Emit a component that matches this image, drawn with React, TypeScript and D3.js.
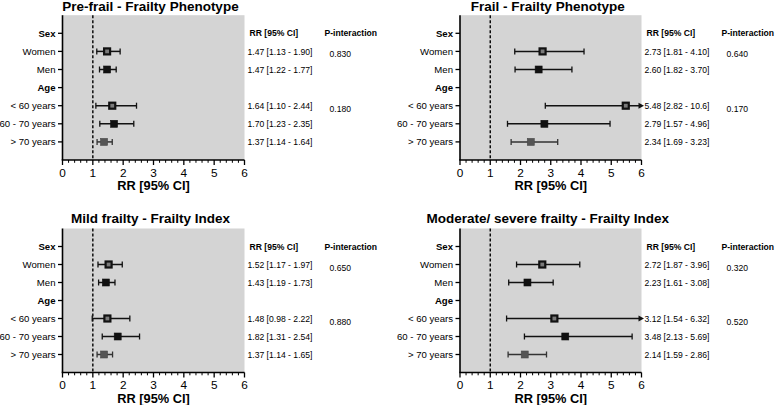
import React from "react";
import * as d3 from "d3";

// ---------- DATA ----------
const rowLabels = ["Sex", "Women", "Men", "Age", "< 60 years", "60 - 70 years", "> 70 years"];
const headerLabels = ["Sex", "Age"];
const dataRowLabels = ["Women", "Men", "< 60 years", "60 - 70 years", "> 70 years"];
const xTicks = [0, 1, 2, 3, 4, 5, 6];

const panelTitles = [
  "Pre-frail - Frailty Phenotype",
  "Frail - Frailty Phenotype",
  "Mild frailty - Frailty Index",
  "Moderate/ severe frailty - Frailty Index",
];

const preFrailRR = [1.47, 1.47, 1.64, 1.7, 1.37];
const preFrailLo = [1.13, 1.22, 1.1, 1.23, 1.14];
const preFrailHi = [1.9, 1.77, 2.44, 2.35, 1.64];
const preFrailP = [0.83, 0.18];

const frailRR = [2.73, 2.6, 5.48, 2.79, 2.34];
const frailLo = [1.81, 1.82, 2.82, 1.57, 1.69];
const frailHi = [4.1, 3.7, 10.6, 4.96, 3.23];
const frailP = [0.64, 0.17];

const mildRR = [1.52, 1.43, 1.48, 1.82, 1.37];
const mildLo = [1.17, 1.19, 0.98, 1.31, 1.14];
const mildHi = [1.97, 1.73, 2.22, 2.54, 1.65];
const mildP = [0.65, 0.88];

const modRR = [2.72, 2.23, 3.12, 3.48, 2.14];
const modLo = [1.87, 1.61, 1.54, 2.13, 1.59];
const modHi = [3.96, 3.08, 6.32, 5.69, 2.86];
const modP = [0.32, 0.52];

const pRowLabels = ["Women", "< 60 years"];

// ---------- STYLE / LAYOUT ----------
const FONT = "'Liberation Sans', Arial, Helvetica, sans-serif";
const BG = "#d4d4d4";
const markerStyle: Record<string, { fill: string; stroke: string; bar: string }> = {
  Women: { fill: "#7a7a7a", stroke: "#111", bar: "#111" },
  Men: { fill: "#111", stroke: "#111", bar: "#111" },
  "< 60 years": { fill: "#7a7a7a", stroke: "#111", bar: "#111" },
  "60 - 70 years": { fill: "#111", stroke: "#111", bar: "#111" },
  "> 70 years": { fill: "#555", stroke: "#4a4a4a", bar: "#333" },
};

const layouts = [
  { x0: 62.5, x1: 244.5, y0: 15.2, y1: 160, titleY: 11 },
  { x0: 460, x1: 641.5, y0: 15.2, y1: 160, titleY: 11 },
  { x0: 62.5, x1: 244.5, y0: 228.5, y1: 372.5, titleY: 223 },
  { x0: 460, x1: 641.5, y0: 228.5, y1: 372.5, titleY: 223 },
];

const panelData = [
  { rr: preFrailRR, lo: preFrailLo, hi: preFrailHi, p: preFrailP },
  { rr: frailRR, lo: frailLo, hi: frailHi, p: frailP },
  { rr: mildRR, lo: mildLo, hi: mildHi, p: mildP },
  { rr: modRR, lo: modLo, hi: modHi, p: modP },
];

const fmt = (v: number) => (v >= 10 ? v.toFixed(1) : v.toFixed(2));

function Panel({ idx }: { idx: number }) {
  const L = layouts[idx];
  const D = panelData[idx];
  const x = d3.scaleLinear().domain([0, 6]).range([L.x0, L.x1]);
  const y = d3.scaleLinear().domain([0, rowLabels.length + 1]).range([L.y0, L.y1]);
  const rowY = (label: string) => y(rowLabels.indexOf(label) + 1);
  const minorTicks = d3.range(0, 6.0001, 0.2).filter((t) => Math.abs(t - Math.round(t)) > 1e-6);
  const cap = 3;

  return (
    <g>
      <rect x={L.x0} y={L.y0} width={L.x1 - L.x0} height={L.y1 - L.y0} fill={BG} />
      <text x={(L.x0 + L.x1) / 2 - 3} y={L.titleY} textAnchor="middle" fontFamily={FONT} fontWeight="bold" fontSize={13.5} fill="#000">
        {panelTitles[idx]}
      </text>
      {/* reference line at RR = 1 */}
      <line x1={x(1)} x2={x(1)} y1={L.y0} y2={L.y1} stroke="#000" strokeWidth={1.4} strokeDasharray="3,2" />
      {/* y axis */}
      <line x1={L.x0} x2={L.x0} y1={L.y0} y2={L.y1} stroke="#000" strokeWidth={1.6} />
      {rowLabels.map((lab) => {
        const yy = rowY(lab);
        const bold = headerLabels.includes(lab);
        return (
          <g key={lab}>
            <line x1={L.x0 - 4.5} x2={L.x0} y1={yy} y2={yy} stroke="#000" strokeWidth={1.3} />
            <text x={L.x0 - 7} y={yy + 3.4} textAnchor="end" fontFamily={FONT} fontSize={9.6} fontWeight={bold ? "bold" : "normal"} fill="#000">
              {lab}
            </text>
          </g>
        );
      })}
      {/* x axis */}
      <line x1={L.x0 - 0.8} x2={L.x1} y1={L.y1} y2={L.y1} stroke="#000" strokeWidth={1.6} />
      {xTicks.map((t) => (
        <g key={t}>
          <line x1={x(t)} x2={x(t)} y1={L.y1} y2={L.y1 + 5} stroke="#000" strokeWidth={1.3} />
          <text x={x(t)} y={L.y1 + 16.5} textAnchor="middle" fontFamily={FONT} fontSize={11.8} fill="#000">
            {t}
          </text>
        </g>
      ))}
      {minorTicks.map((t) => (
        <line key={t} x1={x(t)} x2={x(t)} y1={L.y1} y2={L.y1 + 2.8} stroke="#000" strokeWidth={1} />
      ))}
      <text x={(L.x0 + L.x1) / 2} y={L.y1 + 30} textAnchor="middle" fontFamily={FONT} fontWeight="bold" fontSize={12.8} fill="#000">
        RR [95% CI]
      </text>
      {/* forest marks */}
      {dataRowLabels.map((lab, i) => {
        const yy = rowY(lab);
        const st = markerStyle[lab];
        const lo = D.lo[i];
        const hi = D.hi[i];
        const clipped = hi > 6;
        const xl = x(lo);
        const xh = x(Math.min(hi, 6));
        const open = st.fill !== st.stroke && st.fill !== "#555";
        const ms = open ? 6 : 7;
        return (
          <g key={lab}>
            <line x1={xl} x2={clipped ? xh - 2 : xh} y1={yy} y2={yy} stroke={st.bar} strokeWidth={1.5} />
            <line x1={xl} x2={xl} y1={yy - cap} y2={yy + cap} stroke={st.bar} strokeWidth={1.3} />
            {clipped ? (
              <path d={`M${xh - 3},${yy - 3}L${xh + 2.5},${yy}L${xh - 3},${yy + 3}Z`} fill={st.bar} />
            ) : (
              <line x1={xh} x2={xh} y1={yy - cap} y2={yy + cap} stroke={st.bar} strokeWidth={1.3} />
            )}
            <rect x={x(D.rr[i]) - ms / 2} y={yy - ms / 2} width={ms} height={ms} fill={st.fill} stroke={st.stroke} strokeWidth={open ? 2.2 : 0.6} />
          </g>
        );
      })}
      {/* text columns */}
      <text x={L.x1 + 5} y={rowY("Sex") + 3} fontFamily={FONT} fontWeight="bold" fontSize={8.6} fill="#000">
        RR [95% CI]
      </text>
      <text x={L.x1 + 80} y={rowY("Sex") + 3} fontFamily={FONT} fontWeight="bold" fontSize={8.6} fill="#000">
        P-interaction
      </text>
      {dataRowLabels.map((lab, i) => (
        <text key={lab} x={L.x1 + 3} y={rowY(lab) + 3.3} fontFamily={FONT} fontSize={8.6} fill="#000">
          {`${fmt(D.rr[i])} [${fmt(D.lo[i])} - ${fmt(D.hi[i])}]`}
        </text>
      ))}
      {pRowLabels.map((lab, i) => (
        <text key={lab} x={L.x1 + 85} y={rowY(lab) + 6} fontFamily={FONT} fontSize={8.6} fill="#000">
          {D.p[i].toFixed(3)}
        </text>
      ))}
    </g>
  );
}

export default function App() {
  return (
    <svg width={778} height={405} style={{ position: "absolute", left: 0, top: 0, background: "#fff" }}>
      <rect width={778} height={405} fill="#fff" />
      {[0, 1, 2, 3].map((i) => (
        <Panel key={i} idx={i} />
      ))}
    </svg>
  );
}
